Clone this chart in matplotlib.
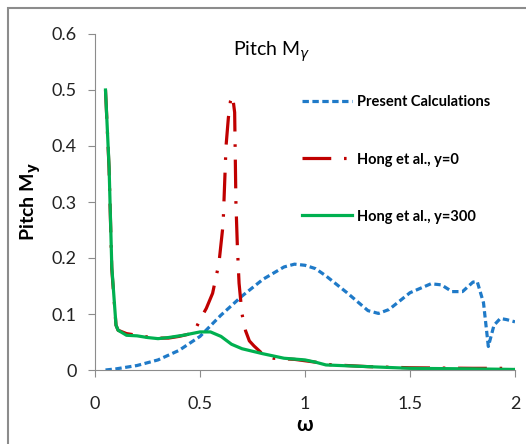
import matplotlib
matplotlib.use("Agg")
import matplotlib.pyplot as plt
from matplotlib.patches import Rectangle

# Data
w_present = [0.05, 0.1, 0.2, 0.3, 0.4, 0.5, 0.6, 0.7, 0.8, 0.9, 0.95, 1.0, 1.05, 1.1, 1.2, 1.3, 1.35, 1.4,
             1.5, 1.6, 1.65, 1.7, 1.75, 1.8, 1.82, 1.85, 1.873, 1.9, 1.93, 1.96, 2.0]
m_present = [0.0, 0.002, 0.008, 0.018, 0.035, 0.06, 0.098, 0.132, 0.162, 0.184, 0.189, 0.187, 0.181, 0.168,
             0.138, 0.106, 0.101, 0.108, 0.138, 0.154, 0.152, 0.14, 0.14, 0.157, 0.158, 0.12, 0.042, 0.08, 0.092,
             0.09, 0.086]

w_hong0 = [0.05, 0.067, 0.08, 0.1, 0.11, 0.15, 0.2, 0.25, 0.3, 0.35, 0.4, 0.47, 0.5, 0.53, 0.56, 0.59,
           0.61, 0.624, 0.635, 0.645, 0.655, 0.665, 0.671, 0.678, 0.686, 0.7, 0.717, 0.735, 0.757, 0.8, 0.85,
           0.95, 1.05, 1.1, 1.3, 1.5, 1.8, 2.0]
m_hong0 = [0.5, 0.36, 0.18, 0.08, 0.071, 0.065, 0.062, 0.059, 0.057, 0.057, 0.06, 0.066, 0.09, 0.11,
           0.137, 0.19, 0.26, 0.40, 0.45, 0.48, 0.49, 0.46, 0.30, 0.22, 0.155, 0.1, 0.07, 0.052, 0.043, 0.028,
           0.021, 0.019, 0.014, 0.01, 0.006, 0.004, 0.003, 0.003]

w_hong300 = [0.05, 0.067, 0.08, 0.1, 0.11, 0.15, 0.2, 0.25, 0.3, 0.35, 0.42, 0.5, 0.55, 0.6, 0.65, 0.7,
             0.8, 0.9, 1.0, 1.05, 1.1, 1.3, 1.5, 1.8, 2.0]
m_hong300 = [0.5, 0.363, 0.184, 0.08, 0.071, 0.062, 0.061, 0.058, 0.056, 0.058, 0.062, 0.068, 0.068,
             0.06, 0.046, 0.038, 0.029, 0.021, 0.018, 0.014, 0.009, 0.006, 0.003, 0.002, 0.001]

labels = ["Present Calculations", "Hong et al., y=0", "Hong et al., y=300"]
xticks = [0, 0.5, 1, 1.5, 2]
xticklabels = ["0", "0.5", "1", "1.5", "2"]
yticks = [0, 0.1, 0.2, 0.3, 0.4, 0.5, 0.6]
yticklabels = ["0", "0.1", "0.2", "0.3", "0.4", "0.5", "0.6"]

plt.rcParams['font.family'] = ['Lato', 'DejaVu Sans']

fig = plt.figure(figsize=(5.26, 4.44), dpi=100)
fig.patches.append(Rectangle((8/526, -0.1), 1.2, (436/444) + 0.1, transform=fig.transFigure,
                             fill=False, edgecolor='#8c8c8c', linewidth=1.5))
ax = fig.add_axes([95/526, 74/444, 420/526, 336/444])

ax.plot(w_present, m_present, color='#1f7ac8', lw=2.3, dashes=(2.0, 1.1), label=labels[0])
ax.plot(w_hong0, m_hong0, color='#c00000', lw=2.3, dashes=(9, 4, 0.8, 4), label=labels[1])
ax.plot(w_hong300, m_hong300, color='#00b050', lw=2.3, label=labels[2])

ax.set_xlim(0, 2)
ax.set_ylim(0, 0.6)
ax.set_xticks(xticks)
ax.set_xticklabels(xticklabels)
ax.set_yticks(yticks)
ax.set_yticklabels(yticklabels)
for s in ['top', 'right']:
    ax.spines[s].set_visible(False)
for s in ['left', 'bottom']:
    ax.spines[s].set_color('#8c8c8c')
ax.tick_params(axis='both', direction='out', length=5, color='#8c8c8c', labelsize=13, labelcolor='#222222')
ax.tick_params(axis='x', pad=14)
ax.tick_params(axis='y', pad=8)

ax.set_xlabel("ω", fontsize=15, fontweight='bold', labelpad=2)
ax.set_ylabel("Pitch M$_\\mathbf{y}$", fontsize=14, fontweight='bold', labelpad=6)
ax.text(0.42, 0.985, "Pitch M$_\\gamma$", transform=ax.transAxes, ha='center', va='top', fontsize=14)

leg = ax.legend(loc='upper left', bbox_to_anchor=(0.493, 0.817), frameon=False,
                handlelength=3.4, labelspacing=2.95, handletextpad=0.35, borderpad=0, borderaxespad=0,
                prop={'weight': 'bold', 'size': 10.5})

fig.savefig("out.png", dpi=100)
